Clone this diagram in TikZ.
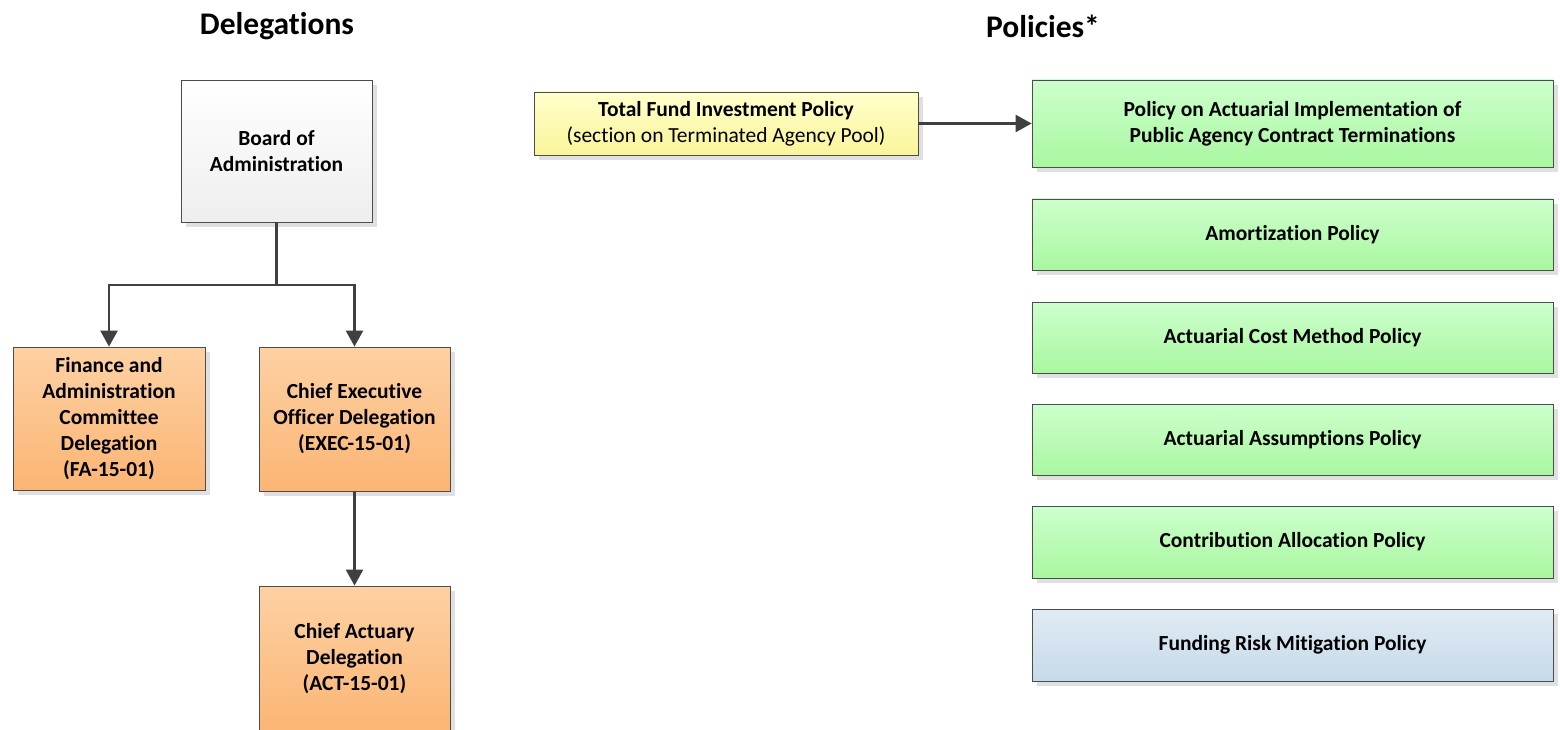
\documentclass[tikz,border=0pt]{standalone}
\usepackage{fontspec}
\setmainfont[RawFeature={-liga}]{Carlito}
\usetikzlibrary{shadows,arrows.meta}
\definecolor{orT}{HTML}{FDD1A3}\definecolor{orB}{HTML}{FBB574}
\definecolor{yeT}{HTML}{FFFFCC}\definecolor{yeB}{HTML}{FAF59A}
\definecolor{grT}{HTML}{CCFFCC}\definecolor{grB}{HTML}{A9F7A0}
\definecolor{blT}{HTML}{E0EBF4}\definecolor{blB}{HTML}{C6DAE9}
\definecolor{gyB}{HTML}{EEEEEE}
\begin{document}
\begin{tikzpicture}[x=1pt,y=-1pt,
  box/.style={draw=black!70, line width=0.8pt, inner sep=0pt, align=center,
    font=\bfseries\fontsize{21.5}{26}\selectfont,
    drop shadow={shadow xshift=5pt, shadow yshift=-5pt, fill=black!12, opacity=1}},
  greybox/.style={box, top color=white, bottom color=gyB},
  orangebox/.style={box, top color=orT, bottom color=orB},
  yellowbox/.style={box, top color=yeT, bottom color=yeB},
  greenbox/.style={box, top color=grT, bottom color=grB},
  bluebox/.style={box, top color=blT, bottom color=blB},
  title/.style={font=\bfseries\fontsize{31.5}{36}\selectfont},
  conn/.style={draw=black!75, line width=2.6pt, -{Triangle[length=16pt,width=17pt]}},
  plain/.style={draw=black!75, line width=2.6pt}
]
\useasboundingbox (0,0) rectangle (1560,730);
\node[title] (t1) at (277,26) {Delegations};
\node[title] (t2) at (1043,26) {Policies*};

\node[greybox, minimum width=191pt, minimum height=142pt] (board) at (276.5,151) {Board of\\Administration};
\node[orangebox, minimum width=192pt, minimum height=143pt] (fin) at (109,418.5) {Finance and\\Administration\\Committee\\Delegation\\(FA-15-01)};
\node[orangebox, minimum width=191pt, minimum height=144pt] (ceo) at (354.5,419) {Chief Executive\\Officer Delegation\\(EXEC-15-01)};
\node[orangebox, minimum width=191pt, minimum height=146pt] (act) at (354.5,659) {Chief Actuary\\Delegation\\(ACT-15-01)};

\node[yellowbox, minimum width=384pt, minimum height=63pt] (tf) at (726,123.5) {Total Fund Investment Policy\\{\mdseries (section on Terminated Agency Pool)}};

\node[greenbox, minimum width=521pt, minimum height=87pt] (p1) at (1292.5,123.5) {Policy on Actuarial Implementation of\\Public Agency Contract Terminations};
\node[greenbox, minimum width=521pt, minimum height=71pt] (p2) at (1292.5,234.5) {Amortization Policy};
\node[greenbox, minimum width=521pt, minimum height=71pt] (p3) at (1292.5,337.5) {Actuarial Cost Method Policy};
\node[greenbox, minimum width=521pt, minimum height=71pt] (p4) at (1292.5,439.5) {Actuarial Assumptions Policy};
\node[greenbox, minimum width=521pt, minimum height=72pt] (p5) at (1292.5,542) {Contribution Allocation Policy};
\node[bluebox, minimum width=521pt, minimum height=72pt] (p6) at (1292.5,645) {Funding Risk Mitigation Policy};

\coordinate (j) at (276.5,285);
\draw[plain] (board.south) -- (j);
\draw[conn] (j) -| (fin.north);
\draw[conn] (j) -| (ceo.north);
\draw[conn] (ceo.south) -- (act.north);
\draw[conn] (tf.east) -- (p1.west |- tf.east);
\end{tikzpicture}
\end{document}
